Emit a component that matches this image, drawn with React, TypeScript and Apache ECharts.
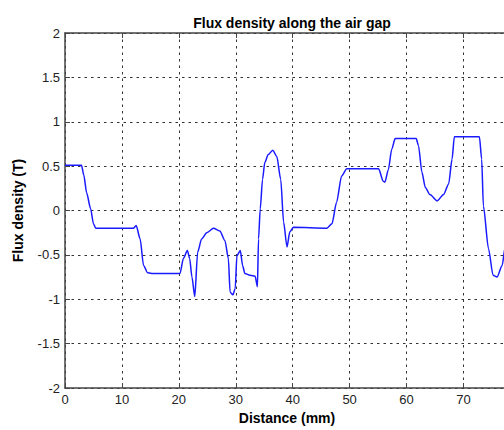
import React, { useEffect, useRef } from "react";
import * as echarts from "echarts";

const titleText = "Flux density along the air gap";
const xName = "Distance (mm)";
const yName = "Flux density (T)";

const distance = [
  0, 2.9, 3.3, 3.8, 4.5, 5.0, 5.4, 6.0, 12.0, 12.5, 13.2, 13.8, 14.5, 15.2,
  20.2, 20.8, 21.5, 21.9, 22.3, 22.8, 23.3, 24.0, 24.9, 26.1, 27.2, 28.1,
  28.7, 29.0, 29.5, 29.9, 30.2, 30.8, 31.2, 31.6, 32.5, 33.4, 33.8, 34.0,
  34.3, 34.7, 35.1, 35.7, 36.5, 37.2, 37.9, 38.4, 39.0, 39.5, 40.1, 46.0,
  46.9, 47.7, 48.6, 49.5, 55.1, 55.9, 56.2, 56.8, 57.4, 58.0, 61.7, 62.1,
  62.7, 63.3, 64.1, 65.4, 66.5, 67.4, 68.0, 68.4, 72.8, 73.2, 73.5, 74.4,
  75.2, 75.9, 76.8, 77.3, 78.0,
];

const flux = [
  0.51, 0.51, 0.4, 0.2, 0.02, -0.15, -0.2, -0.2, -0.2, -0.17, -0.32, -0.62,
  -0.7, -0.71, -0.71, -0.54, -0.45, -0.54, -0.75, -0.97, -0.47, -0.32, -0.25,
  -0.2, -0.23, -0.34, -0.54, -0.92, -0.95, -0.88, -0.51, -0.45, -0.62, -0.71,
  -0.73, -0.74, -0.86, -0.32, 0.02, 0.35, 0.54, 0.63, 0.68, 0.61, 0.35,
  -0.13, -0.41, -0.24, -0.19, -0.2, -0.15, 0.09, 0.39, 0.47, 0.47, 0.33,
  0.32, 0.46, 0.69, 0.81, 0.81, 0.73, 0.43, 0.26, 0.18, 0.11, 0.18, 0.3,
  0.58, 0.83, 0.83, 0.58, 0.05, -0.43, -0.73, -0.75, -0.62, -0.42, -0.3,
];

const FONT = "'Liberation Sans', Arial, sans-serif";

export default function App() {
  const ref = useRef<HTMLDivElement>(null);
  useEffect(() => {
    if (!ref.current) return;
    const chart = echarts.init(ref.current, undefined, { renderer: "svg" });
    const gridLine = { show: true, lineStyle: { color: "#333", type: [2.5, 4] as any, width: 1 } };
    chart.setOption({
      animation: false,
      backgroundColor: "#fff",
      title: {
        text: titleText,
        left: 287,
        top: 11,
        textAlign: "center",
        textStyle: { fontFamily: FONT, fontSize: 14, fontWeight: "bold", color: "#000" },
      },
      grid: { left: 65, top: 33, bottom: 40, right: 0, containLabel: false },
      xAxis: [
        {
          type: "value",
          min: 0,
          max: 78,
          interval: 10,
          name: xName,
          nameLocation: "middle",
          nameGap: 23,
          nameTextStyle: { fontFamily: FONT, fontSize: 14, fontWeight: "bold", color: "#000" },
          axisLine: { show: true, onZero: false, lineStyle: { color: "#444", width: 1.5 } },
          axisTick: { show: true, inside: true, length: 5, lineStyle: { color: "#444" } },
          axisLabel: { fontFamily: FONT, fontSize: 13, color: "#222", margin: 5, showMaxLabel: false },
          splitLine: gridLine,
        },
        {
          type: "value",
          position: "top",
          min: 0,
          max: 78,
          interval: 10,
          axisLine: { show: true, onZero: false, lineStyle: { color: "#444", width: 1.5 } },
          axisTick: { show: true, inside: true, length: 5, lineStyle: { color: "#444" } },
          axisLabel: { show: false },
          splitLine: { show: false },
        },
      ],
      yAxis: {
        type: "value",
        min: -2,
        max: 2,
        interval: 0.5,
        name: yName,
        nameLocation: "middle",
        nameGap: 40,
        nameTextStyle: { fontFamily: FONT, fontSize: 14, fontWeight: "bold", color: "#000" },
        axisLine: { show: true, onZero: false, lineStyle: { color: "#444", width: 1.5 } },
        axisTick: { show: true, inside: true, length: 5, lineStyle: { color: "#444" } },
        axisLabel: { fontFamily: FONT, fontSize: 13, color: "#222", margin: 5 },
        splitLine: gridLine,
      },
      series: [
        {
          type: "line",
          data: distance.map((d, i) => [d, flux[i]]),
          showSymbol: false,
          smooth: 0.25,
          smoothMonotone: "x",
          lineStyle: { color: "#1a1aff", width: 1.5 },
          clip: true,
        },
      ],
    });
    return () => chart.dispose();
  }, []);
  return (
    <div style={{ position: "fixed", left: 0, top: 0, width: 504, height: 430, overflow: "hidden" }}>
      <div ref={ref} style={{ width: 509, height: 430 }} />
    </div>
  );
}
